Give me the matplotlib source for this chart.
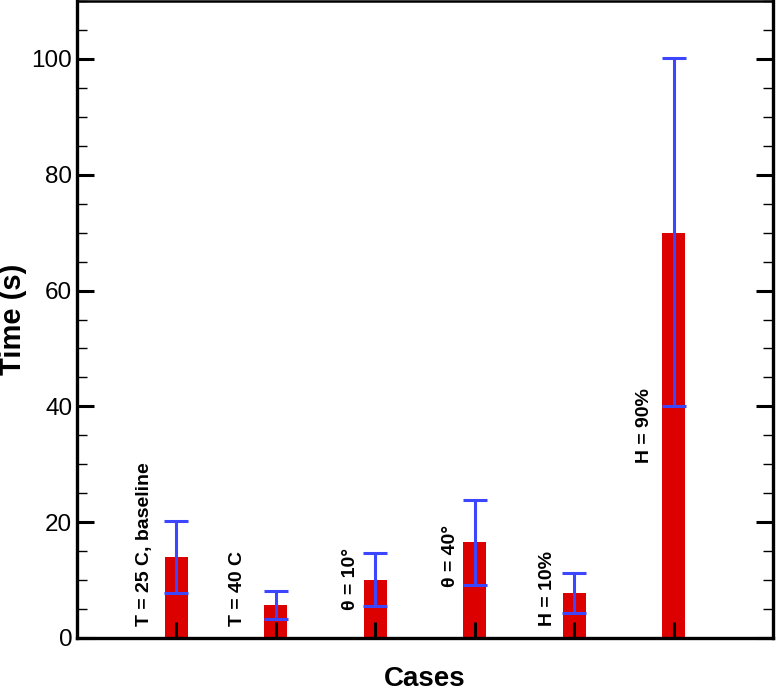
import numpy as np
import matplotlib.pyplot as plt
from matplotlib.ticker import MultipleLocator

# datos
casos = ['T = 25 C, baseline', 'T = 40 C', 'θ = 10°', 'θ = 40°', 'H = 10%', 'H = 90%']
tiempo = [14.0, 5.7, 10.1, 16.5, 7.7, 70.0]
t_min = [7.8, 3.3, 5.6, 9.2, 4.4, 40.0]
t_max = [20.2, 8.2, 14.6, 23.9, 11.2, 100.2]

# posición de las etiquetas (desplazamiento en x, altura de inicio)
lab_dx = [-0.32, -0.39, -0.25, -0.24, -0.27, -0.29]
lab_y = [2.0, 2.0, 4.8, 8.8, 2.0, 30.3]

x = np.arange(1, len(casos) + 1)
tiempo = np.array(tiempo)
err = [tiempo - np.array(t_min), np.array(t_max) - tiempo]

plt.rcParams['font.family'] = ['Liberation Sans', 'DejaVu Sans']

fig = plt.figure(figsize=(7.76, 6.92), dpi=100)
ax = fig.add_axes([77/776, 1 - 638/692, (773 - 77)/776, (638 - 1)/692])

ax.bar(x, tiempo, width=0.23, color='#dd0000')
ax.errorbar(x, tiempo, yerr=err, fmt='none', ecolor='#3c46ff', elinewidth=2.2,
            capsize=8.3, capthick=2.2)

for xi, dx, yi, txt in zip(x, lab_dx, lab_y, casos):
    ax.text(xi + dx, yi, txt, rotation=90, ha='center', va='bottom',
            fontsize=14, fontweight='bold')

ax.set_xlim(0, 7)
ax.set_ylim(0, 110)
ax.set_xticks(x)
ax.set_xticklabels([])
ax.yaxis.set_major_locator(MultipleLocator(20))
ax.yaxis.set_minor_locator(MultipleLocator(5))
ax.tick_params(axis='y', which='both', direction='in', right=True, labelsize=17.5)
ax.tick_params(axis='y', which='major', length=12, width=2.2)
ax.tick_params(axis='y', which='minor', length=7.5, width=1.0)
ax.tick_params(axis='x', which='major', direction='in', length=11.5, width=2.2)
for s in ['left', 'bottom', 'right']:
    ax.spines[s].set_linewidth(2.4)
ax.spines['top'].set_linewidth(1.8)

ax.set_ylabel('Time (s)', fontsize=21, fontweight='bold', labelpad=3)
ax.set_xlabel('Cases', fontsize=20, fontweight='bold', labelpad=17)

plt.savefig('out.png', dpi=100)
